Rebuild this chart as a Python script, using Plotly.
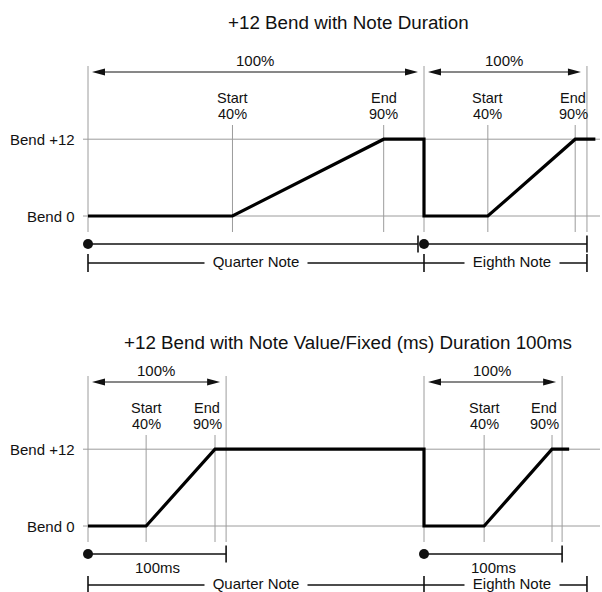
import plotly.graph_objects as go

# ------------------------- data -------------------------
bend_levels = [0, 12]
bend_labels = ["Bend 0", "Bend +12"]

note_names = ["Quarter Note", "Eighth Note"]
note_start = [0.0, 1.0]          # beats
note_end = [1.0, 1.485]

# panel 1: +12 Bend with Note Duration
p1_title = "+12 Bend with Note Duration"
p1_curve_beats = [0.0, 0.43, 0.88, 1.0, 1.0, 1.19, 1.45, 1.51]
p1_curve_bend = [0, 0, 12, 12, 0, 0, 12, 12]
p1_window_start = [0.0, 1.0]
p1_window_end = [1.0, 1.485]
p1_window_label = ["100%", "100%"]
p1_bend_start = [0.43, 1.19]
p1_bend_end = [0.88, 1.45]
p1_fixed_label = ["", ""]

# panel 2: +12 Bend with Note Value/Fixed (ms) Duration 100ms
p2_title = "+12 Bend with Note Value/Fixed (ms) Duration 100ms"
p2_curve_beats = [0.0, 0.173, 0.378, 1.0, 1.0, 1.179, 1.381, 1.432]
p2_curve_bend = [0, 0, 12, 12, 0, 0, 12, 12]
p2_window_start = [0.0, 1.0]
p2_window_end = [0.411, 1.411]
p2_window_label = ["100%", "100%"]
p2_bend_start = [0.173, 1.179]
p2_bend_end = [0.378, 1.381]
p2_fixed_label = ["100ms", "100ms"]

start_text = ["Start", "40%"]
end_text = ["End", "90%"]

# ------------------------- layout helpers -------------------------
W, H = 602, 592
X_PX = 336.0          # pixels per beat
X0_PX = 88.0          # pixel position of beat 0
Y_PX = 6.4            # pixels per bend semitone
FONT = "Liberation Sans, Arial, Helvetica, sans-serif"
GRAY = "#9c9c9c"
INK = "#111111"


def dx(px):
    return px / X_PX


def dy(px):
    return px / Y_PX


fig = go.Figure()
shapes = []
annotations = []

panels = [
    dict(xa="x", ya="y", title=p1_title, title_dy=194, cx=p1_curve_beats, cy=p1_curve_bend,
         ws=p1_window_start, we=p1_window_end, wl=p1_window_label, bs=p1_bend_start,
         be=p1_bend_end, fl=p1_fixed_label, note_dy=-47, end_shift=[0, -2]),
    dict(xa="x2", ya="y2", title=p2_title, title_dy=184, cx=p2_curve_beats, cy=p2_curve_bend,
         ws=p2_window_start, we=p2_window_end, wl=p2_window_label, bs=p2_bend_start,
         be=p2_bend_end, fl=p2_fixed_label, note_dy=-59, end_shift=[-8, -8]),
]

x_left = -X0_PX / X_PX
x_right = (W - X0_PX) / X_PX

for p in panels:
    xa, ya = p["xa"], p["ya"]

    def gline(xs, ys, color=GRAY, width=1):
        fig.add_trace(go.Scatter(x=xs, y=ys, mode="lines", xaxis=xa, yaxis=ya,
                                 line=dict(color=color, width=width), hoverinfo="skip",
                                 showlegend=False))

    # horizontal reference lines + labels
    for lvl, lab in zip(bend_levels, bend_labels):
        gline([-dx(5), dx(600 - X0_PX)], [lvl, lvl])
        annotations.append(dict(x=-dx(11), y=lvl, xref=xa, yref=ya, text=lab, showarrow=False,
                                xanchor="right", yanchor="middle",
                                font=dict(family=FONT, size=15, color=INK)))

    # long window boundary lines
    bounds = sorted(set(p["ws"] + p["we"]))
    for b in bounds:
        gline([b, b], [dy(-16), dy(150)])
    # short start/end lines
    for b in p["bs"] + p["be"]:
        gline([b, b], [dy(-16), dy(91)])

    # start / end labels
    for i, (s, e) in enumerate(zip(p["bs"], p["be"])):
        for txt, off in zip(start_text, [118, 102]):
            annotations.append(dict(x=s, y=dy(off), xref=xa, yref=ya, text=txt, showarrow=False,
                                    xanchor="center", yanchor="middle",
                                    font=dict(family=FONT, size=14.5, color=INK)))
        for txt, off in zip(end_text, [118, 102]):
            annotations.append(dict(x=e + dx(p["end_shift"][i]), y=dy(off), xref=xa, yref=ya,
                                    text=txt, showarrow=False, xanchor="center", yanchor="middle",
                                    font=dict(family=FONT, size=14.5, color=INK)))

    # window arrows + 100% labels
    for s, e, lab in zip(p["ws"], p["we"], p["wl"]):
        a0, a1 = s + dx(4), e - dx(6)
        ay = dy(144)
        gline([a0 + dx(6), a1 - dx(6)], [ay, ay], color=INK, width=1)
        shapes.append(dict(type="path", xref=xa, yref=ya, xsizemode="pixel", ysizemode="pixel",
                           xanchor=a1, yanchor=ay, path="M0,0 L-13,-3.5 L-13,3.5 Z",
                           fillcolor=INK, line=dict(width=0)))
        shapes.append(dict(type="path", xref=xa, yref=ya, xsizemode="pixel", ysizemode="pixel",
                           xanchor=a0, yanchor=ay, path="M0,0 L13,-3.5 L13,3.5 Z",
                           fillcolor=INK, line=dict(width=0)))
        annotations.append(dict(x=(a0 + a1) / 2, y=dy(156), xref=xa, yref=ya, text=lab,
                                showarrow=False, xanchor="center", yanchor="middle",
                                font=dict(family=FONT, size=15, color=INK)))

    # window marker lines (dot ... tick)
    my = dy(-28)
    for i, (s, e) in enumerate(zip(p["ws"], p["we"])):
        end = e - dx(6) if e in p["ws"] else e
        gline([s, end], [my, my], color=INK, width=1.6)
        fig.add_trace(go.Scatter(x=[end], y=[my], mode="markers", xaxis=xa, yaxis=ya,
                                 marker=dict(symbol="line-ns", size=12,
                                             line=dict(color=INK, width=1.6)),
                                 hoverinfo="skip", showlegend=False))
        fig.add_trace(go.Scatter(x=[s], y=[my], mode="markers", xaxis=xa, yaxis=ya,
                                 marker=dict(symbol="circle", size=10, color=INK),
                                 hoverinfo="skip", showlegend=False))
        if p["fl"][i]:
            annotations.append(dict(x=(s + e) / 2, y=dy(-41), xref=xa, yref=ya, text=p["fl"][i],
                                    showarrow=False, xanchor="center", yanchor="middle",
                                    font=dict(family=FONT, size=15, color=INK)))

    # note duration line
    ny = dy(p["note_dy"])
    gline([note_start[0], note_end[-1]], [ny, ny], color=INK, width=1.4)
    ticks = sorted(set(note_start + note_end))
    fig.add_trace(go.Scatter(x=ticks, y=[ny] * len(ticks), mode="markers", xaxis=xa, yaxis=ya,
                             marker=dict(symbol="line-ns", size=13,
                                         line=dict(color=INK, width=1.6)),
                             hoverinfo="skip", showlegend=False))
    for j, (nm, s, e) in enumerate(zip(note_names, note_start, note_end)):
        shift = [0, 7][j]
        box_w = [100, 92][j]
        annotations.append(dict(x=(s + e) / 2 + dx(shift), y=ny + dy(2), xref=xa, yref=ya,
                                text=nm, showarrow=False, xanchor="center", yanchor="middle",
                                bgcolor="white", borderpad=1, width=box_w, align="center",
                                font=dict(family=FONT, size=15, color=INK)))

    # bend curve
    fig.add_trace(go.Scatter(x=p["cx"], y=p["cy"], mode="lines", xaxis=xa, yaxis=ya,
                             line=dict(color="black", width=3.2), hoverinfo="skip",
                             showlegend=False))

    # title
    annotations.append(dict(x=dx(348 - X0_PX), y=dy(p["title_dy"]), xref=xa, yref=ya,
                            text=p["title"], showarrow=False, xanchor="center",
                            yanchor="middle", font=dict(family=FONT, size=18.8, color=INK)))

axis_common = dict(visible=False, showgrid=False, zeroline=False, fixedrange=True)
fig.update_layout(
    width=W, height=H,
    margin=dict(l=0, r=0, t=0, b=0),
    paper_bgcolor="white", plot_bgcolor="white",
    showlegend=False,
    xaxis=dict(domain=[0, 1], range=[x_left, x_right], anchor="y", **axis_common),
    yaxis=dict(domain=[0.5, 1], range=[dy(-80), dy(216)], anchor="x", **axis_common),
    xaxis2=dict(domain=[0, 1], range=[x_left, x_right], anchor="y2", **axis_common),
    yaxis2=dict(domain=[0, 0.5], range=[dy(-66), dy(230)], anchor="x2", **axis_common),
    shapes=shapes,
    annotations=annotations,
)

fig.write_html(
    "out.html",
    config={"displayModeBar": False},
    post_script="document.body.style.margin='0';document.body.style.overflow='hidden';",
)
